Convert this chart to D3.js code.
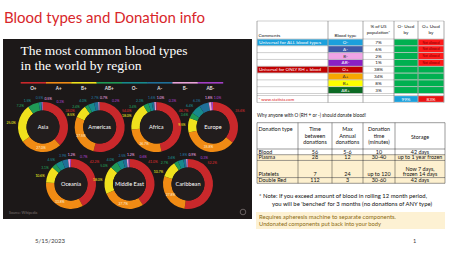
<!DOCTYPE html>
<html>
<head>
<meta charset="utf-8">
<script src="https://cdn.jsdelivr.net/npm/d3@7"></script>
<style>
body { margin: 0; background: #fff; }
svg { display: block; font-family: Lato, "Liberation Sans", sans-serif; }
</style>
</head>
<body>
<script>
(function() {

"use strict";

const SLIDE_TITLE = "Blood types and Donation info";
const CHART_TITLE = ["The most common blood types", "in the world by region"];

const BLOOD_TYPES = ["O+", "A+", "B+", "AB+", "O-", "A-", "B-", "AB-"];
const REGIONS = ["Asia", "Americas", "Africa", "Europe", "Oceania", "Middle East", "Caribbean"];

const ASIA        = [38.0, 27.0, 25.0, 7.2, 1.5, 0.5, 0.5, 0.3];
const AMERICAS    = [54.0, 27.5, 8.5, 2.4, 4.0, 2.7, 0.7, 0.2];
const AFRICA      = [46.7, 26.7, 18.0, 3.4, 2.3, 1.6, 1.0, 0.3];
const EUROPE      = [35.6, 35.8, 9.5, 3.6, 6.4, 6.3, 1.8, 1.0];
const OCEANIA     = [42.2, 33.8, 10.6, 3.1, 4.5, 3.9, 1.2, 0.7];
const MIDDLE_EAST = [41.0, 27.7, 18.0, 5.0, 4.0, 2.5, 1.2, 0.6];
const CARIBBEAN   = [52.2, 27.8, 10.7, 2.7, 3.6, 1.8, 0.9, 0.3];

// US table
const US_TYPES = ["O-", "A-", "B-", "AB-", "O+", "A+", "B+", "AB+"];
const US_SHARE = [7, 6, 2, 1, 38, 34, 8, 3];
const COMMENTS = ["Universal for ALL blood types", "", "", "", "Universal for ONLY RH + blood", "", "", ""];
const O_NEG_USED = [true, true, true, true, true, true, true, true];
const O_POS_USED = [false, false, false, false, true, true, true, true];
const USED_TOTALS = [99, 83];

// donation table
const DONATION_TYPES = ["Blood", "Plasma", "Platelets", "Double Red"];
const DAYS_BETWEEN = ["56", "28", "7", "112"];
const MAX_ANNUAL = ["5-6", "12", "24", "3"];
const DONATION_MINUTES = ["10", "30-40", "up to 120", "30-60"];
const STORAGE = [["42 days"], ["up to 1 year frozen"], ["Now 7 days,", "frozen 14 days"], ["42 days"]];

const SHARES = [ASIA, AMERICAS, AFRICA, EUROPE, OCEANIA, MIDDLE_EAST, CARIBBEAN];

let svg = d3.select("body").append("svg")
	.attr("width", 450)
	.attr("height", 253);

svg.append("text")
	.attr("x", 4)
	.attr("y", 22.5)
	.attr("fill", "#d8262a")
	.attr("textLength", 201)
	.attr("lengthAdjust", "spacingAndGlyphs")
	.style("font-size", "16px")
	.text(SLIDE_TITLE);

// ---------- dark infographic panel ----------
let panel = svg.append("g");

panel.append("rect")
	.attr("x", 3).attr("y", 39)
	.attr("width", 249).attr("height", 180)
	.attr("fill", "#1c1818");

panel.selectAll("text.title")
	.data(CHART_TITLE)
	.join("text")
		.attr("class", "title")
		.attr("x", 20.5)
		.attr("y", (d, i) => 55.3 + i * 14.4)
		.attr("fill", "#fff")
		.attr("textLength", (d, i) => i ? 121 : 167)
		.attr("lengthAdjust", "spacingAndGlyphs")
		.style("font-family", "'Liberation Serif', 'DejaVu Serif', serif")
		.style("font-size", "12.4px")
		.text(d => d);

let typeColor = d3.scaleOrdinal()
	.domain(BLOOD_TYPES)
	.range(["#c9282b", "#f08b14", "#efe11d", "#1f9a56", "#17898c", "#1f6f98", "#e8a3da", "#a23fc6"]);

let legend = d3.scaleBand()
	.domain(BLOOD_TYPES)
	.range([20.7, 223]);

panel.selectAll("rect.key")
	.data(BLOOD_TYPES)
	.join("rect")
		.attr("class", "key")
		.attr("x", d => legend(d))
		.attr("y", 82)
		.attr("width", legend.bandwidth() + 0.2)
		.attr("height", 1.6)
		.attr("fill", d => typeColor(d));

panel.selectAll("text.key")
	.data(BLOOD_TYPES)
	.join("text")
		.attr("class", "key")
		.attr("x", d => legend(d) + legend.bandwidth() / 2)
		.attr("y", 89.5)
		.attr("text-anchor", "middle")
		.attr("fill", "#e8e2e2")
		.style("font-size", "4.6px")
		.style("font-weight", "bold")
		.text(d => d);

let row1 = d3.scalePoint().domain(REGIONS.slice(0, 4)).range([43, 213]);
let row2 = d3.scalePoint().domain(REGIONS.slice(4)).range([71, 188]);

const R = 25, r = 16.5;
let pie = d3.pie().sort(null).value(d => d).startAngle(0).endAngle(2 * Math.PI);
let arc = d3.arc().innerRadius(r).outerRadius(R);

function drawDonut(region, shares) {
	let first = row1.domain().includes(region);
	let cx = first ? row1(region) : row2(region);
	let cy = first ? 127 : 184;

	let g = panel.append("g")
		.attr("transform", `translate(${cx}, ${cy})`);

	let slices = pie(shares);

	g.selectAll("path")
		.data(slices)
		.join("path")
			.attr("d", arc)
			.attr("fill", (d, i) => typeColor(BLOOD_TYPES[i]));

	g.append("circle")
		.attr("r", r)
		.attr("fill", "#221d1d");

	g.append("text")
		.attr("text-anchor", "middle")
		.attr("dy", "0.35em")
		.attr("fill", "#fff")
		.style("font-size", "5.6px")
		.text(region);

	// spread the label angles so the small slices at the top do not collide;
	// the O+ label is kept in the upper right and acts as a wrap-around neighbour
	let angles = slices.map(d => (d.startAngle + d.endAngle) / 2);
	angles[0] = Math.min(angles[0], first ? 0.95 : 0.75);
	let spread = angles.slice(2).concat([angles[0] + 2 * Math.PI]);
	const gap = 0.32;
	for (let k = 0; k < 120; k++) {
		for (let i = 1; i < spread.length; i++) {
			let diff = spread[i] - spread[i - 1];
			if (diff < gap) {
				spread[i - 1] -= (gap - diff) / 2;
				spread[i] += (gap - diff) / 2;
			}
		}
	}
	spread.slice(0, -1).forEach((a, i) => angles[i + 2] = a);
	angles[0] = spread[spread.length - 1] - 2 * Math.PI;

	g.selectAll("text.pct")
		.data(slices)
		.join("text")
			.attr("class", "pct")
			.each(function(d, i) {
				let a = angles[i];
				let s = Math.sin(a), c = Math.cos(a);
				let sel = d3.select(this);
				if (i == 1) {
					// the A+ share sits on the ring itself
					let rr = (R + r) / 2;
					sel.attr("x", rr * s)
						.attr("y", -rr * c + 1.2)
						.attr("text-anchor", "middle")
						.attr("fill", "#fff0d8");
					return;
				}
				let rr = R + 2.5;
				sel.attr("x", rr * s)
					.attr("y", -rr * c + (c > 0.6 ? -0.5 : c < -0.6 ? 3.3 : 1.2))
					.attr("text-anchor", s > 0.3 ? "start" : s < -0.3 ? "end" : "middle")
					.attr("fill", d3.color(typeColor(BLOOD_TYPES[i])).brighter(0.3));
			})
			.style("font-size", "3.4px")
			.text(d => d.data.toFixed(1) + "%");
}

REGIONS.forEach((region, i) => drawDonut(region, SHARES[i]));

panel.append("text")
	.attr("x", 9)
	.attr("y", 213.5)
	.attr("fill", "#7d7272")
	.style("font-size", "3.6px")
	.text("Source: Wikipedia");

panel.append("circle")
	.attr("cx", 243).attr("cy", 212).attr("r", 2.8)
	.attr("fill", "none")
	.attr("stroke", "#9a9090")
	.attr("stroke-width", 0.6);

// ---------- US blood type table ----------
let t1 = svg.append("g").style("font-size", "4.6px");

const COLS1 = [257, 328, 363, 394, 418, 444];
let rows1 = d3.scaleBand().domain(US_TYPES).range([39, 93.5]);
let usColor = d3.scaleOrdinal()
	.domain(US_TYPES)
	.range(["#1ba0dc", "#3f5aa8", "#f0a4e6", "#8a20c4", "#c00000", "#f7a600", "#ffff00", "#0c6a24"]);
let usText = d3.scaleOrdinal()
	.domain(US_TYPES)
	.range(["#fff", "#fff", "#333", "#fff", "#fff", "#333", "#333", "#fff"]);

const inset = 0.35;

t1.selectAll("rect.type")
	.data(US_TYPES)
	.join("rect")
		.attr("class", "type")
		.attr("x", COLS1[1] + inset)
		.attr("y", d => rows1(d) + inset)
		.attr("width", COLS1[2] - COLS1[1] - 2 * inset)
		.attr("height", rows1.bandwidth() - 2 * inset)
		.attr("fill", d => usColor(d));

t1.selectAll("text.type")
	.data(US_TYPES)
	.join("text")
		.attr("class", "type")
		.attr("x", (COLS1[1] + COLS1[2]) / 2)
		.attr("y", d => rows1(d) + rows1.bandwidth() / 2 + 1.6)
		.attr("text-anchor", "middle")
		.attr("fill", d => usText(d))
		.text(d => d);

let comments = COMMENTS.map((c, i) => ({c, type: US_TYPES[i]})).filter(d => d.c);

t1.selectAll("rect.comment")
	.data(comments)
	.join("rect")
		.attr("class", "comment")
		.attr("x", COLS1[0] + inset)
		.attr("y", d => rows1(d.type) + inset)
		.attr("width", COLS1[1] - COLS1[0] - 2 * inset)
		.attr("height", rows1.bandwidth() - 2 * inset)
		.attr("fill", d => usColor(d.type));

t1.selectAll("text.comment")
	.data(comments)
	.join("text")
		.attr("class", "comment")
		.attr("x", COLS1[0] + 2)
		.attr("y", d => rows1(d.type) + rows1.bandwidth() / 2 + 1.6)
		.attr("fill", "#fff")
		.attr("textLength", 62)
		.attr("lengthAdjust", "spacingAndGlyphs")
		.text(d => d.c);

t1.selectAll("text.share")
	.data(US_SHARE)
	.join("text")
		.attr("class", "share")
		.attr("x", (COLS1[2] + COLS1[3]) / 2)
		.attr("y", (d, i) => rows1(US_TYPES[i]) + rows1.bandwidth() / 2 + 1.6)
		.attr("text-anchor", "middle")
		.attr("fill", "#111")
		.text(d => d + "%");

[O_NEG_USED, O_POS_USED].forEach((used, k) => {
	let x0 = COLS1[3 + k], x1 = COLS1[4 + k];
	t1.selectAll(`rect.used${k}`)
		.data(used)
		.join("rect")
			.attr("class", `used${k}`)
			.attr("x", x0 + inset)
			.attr("y", (d, i) => rows1(US_TYPES[i]) + inset)
			.attr("width", x1 - x0 - 2 * inset)
			.attr("height", rows1.bandwidth() - 2 * inset)
			.attr("fill", d => d ? "#00b050" : "#ff1a1a");
	t1.selectAll(`text.used${k}`)
		.data(used)
		.join("text")
			.attr("class", `used${k}`)
			.attr("x", (x0 + x1) / 2)
			.attr("y", (d, i) => rows1(US_TYPES[i]) + rows1.bandwidth() / 2 + 1.2)
			.attr("text-anchor", "middle")
			.attr("fill", "#7a0000")
			.style("font-size", "3.2px")
			.text(d => d ? "" : "Not allowed");
});

// header
const HEAD1 = [["Comments"], ["Blood type"], ["% of US", "population*"], ["O- Used", "by"], ["O+ Used", "by"]];
HEAD1.forEach((lines, j) => {
	let left = j == 0;
	t1.append("text")
		.attr("text-anchor", left ? "start" : "middle")
		.attr("fill", "#111")
		.selectAll("tspan")
		.data(lines)
		.join("tspan")
			.attr("x", left ? COLS1[0] + 1.5 : (COLS1[j] + COLS1[j + 1]) / 2)
			.attr("y", (d, i) => lines.length > 1 ? 27.5 + i * 6.5 : 36.5)
			.text(d => d);
});

// footer row
const FOOT_Y = 95.5, FOOT_H = 7;
t1.append("text")
	.attr("x", COLS1[0] + 1.5)
	.attr("y", FOOT_Y + 5)
	.attr("fill", "#e02424")
	.style("font-size", "4.2px")
	.text("* www.statista.com");

t1.selectAll("rect.total")
	.data(USED_TOTALS)
	.join("rect")
		.attr("class", "total")
		.attr("x", (d, i) => COLS1[3 + i] + inset)
		.attr("y", FOOT_Y + 0.6)
		.attr("width", (d, i) => COLS1[4 + i] - COLS1[3 + i] - 2 * inset)
		.attr("height", FOOT_H - 1.2)
		.attr("fill", (d, i) => i ? "#e81414" : "#1ba0dc");

t1.selectAll("text.total")
	.data(USED_TOTALS)
	.join("text")
		.attr("class", "total")
		.attr("x", (d, i) => (COLS1[3 + i] + COLS1[4 + i]) / 2)
		.attr("y", FOOT_Y + 5)
		.attr("text-anchor", "middle")
		.attr("fill", "#fff")
		.text(d => d + "%");

// grid
let hLines1 = [21, ...US_TYPES.map(d => rows1(d)), 93.5, FOOT_Y, FOOT_Y + FOOT_H];
t1.selectAll("line.h")
	.data(hLines1)
	.join("line")
		.attr("class", "h")
		.attr("x1", COLS1[0]).attr("x2", COLS1[COLS1.length - 1])
		.attr("y1", d => d).attr("y2", d => d)
		.attr("stroke", "#777")
		.attr("stroke-width", 0.35);

t1.selectAll("line.v")
	.data(COLS1)
	.join("line")
		.attr("class", "v")
		.attr("x1", d => d).attr("x2", d => d)
		.attr("y1", 21).attr("y2", FOOT_Y + FOOT_H)
		.attr("stroke", "#444")
		.attr("stroke-width", 0.45);

// ---------- donation table ----------
svg.append("text")
	.attr("x", 257)
	.attr("y", 116.6)
	.attr("fill", "#111")
	.attr("textLength", 109)
	.attr("lengthAdjust", "spacingAndGlyphs")
	.style("font-size", "4.8px")
	.text("Why anyone with O (RH + or -) should donate blood!");

let t2 = svg.append("g").style("font-size", "5.4px");

const COLS2 = [257, 298, 332, 363, 395, 445];
const LINES = [1, 1, 3, 1];
let cum = [0];
LINES.forEach(n => cum.push(cum[cum.length - 1] + n));
let y2 = d3.scaleLinear().domain([0, 6]).range([149, 183.3]);

t2.selectAll("rect.band")
	.data(DONATION_TYPES)
	.join("rect")
		.attr("class", "band")
		.attr("x", COLS2[0])
		.attr("y", (d, i) => y2(cum[i]))
		.attr("width", COLS2[5] - COLS2[0])
		.attr("height", (d, i) => y2(cum[i + 1]) - y2(cum[i]))
		.attr("fill", (d, i) => i ? "#fdf0cf" : "#fff");

const HEAD2 = [["Donation type"], ["Time", "between", "donations"], ["Max", "Annual", "donations"], ["Donation", "time", "(minutes)"], ["Storage"]];
HEAD2.forEach((lines, j) => {
	let left = j == 0;
	let x = left ? COLS2[0] + 1.5 : (COLS2[j] + COLS2[j + 1]) / 2;
	t2.append("text")
		.attr("text-anchor", left ? "start" : "middle")
		.attr("fill", "#111")
		.selectAll("tspan")
		.data(lines)
		.join("tspan")
			.attr("x", x)
			.attr("y", (d, i) => j == 4 ? 139 : 131 + i * 6.7)
			.text(d => d);
});

let columns2 = [DONATION_TYPES, DAYS_BETWEEN, MAX_ANNUAL, DONATION_MINUTES];
columns2.forEach((col, j) => {
	let left = j == 0;
	t2.selectAll(`text.c${j}`)
		.data(col)
		.join("text")
			.attr("class", `c${j}`)
			.attr("x", left ? COLS2[0] + 1.5 : (COLS2[j] + COLS2[j + 1]) / 2)
			.attr("y", (d, i) => y2(cum[i + 1]) - 1.2)
			.attr("text-anchor", left ? "start" : "middle")
			.attr("fill", "#111")
			.text(d => d);
});

t2.selectAll("text.storage")
	.data(STORAGE)
	.join("text")
		.attr("class", "storage")
		.attr("text-anchor", "middle")
		.attr("fill", "#111")
		.each(function(lines, i) {
			d3.select(this).selectAll("tspan")
				.data(lines)
				.join("tspan")
					.attr("x", (COLS2[4] + COLS2[5]) / 2)
					.attr("y", (d, k) => y2(cum[i + 1]) - 1.2 - (lines.length - 1 - k) * 5.6)
					.text(d => d);
		});

t2.selectAll("line.h")
	.data([122.7, ...cum.map(c => y2(c))])
	.join("line")
		.attr("class", "h")
		.attr("x1", COLS2[0]).attr("x2", COLS2[5])
		.attr("y1", d => d).attr("y2", d => d)
		.attr("stroke", "#222")
		.attr("stroke-width", 0.45);

t2.selectAll("line.v")
	.data(COLS2)
	.join("line")
		.attr("class", "v")
		.attr("x1", d => d).attr("x2", d => d)
		.attr("y1", 122.7).attr("y2", y2(6))
		.attr("stroke", "#222")
		.attr("stroke-width", 0.45);

// notes
const NOTES = [
	"* Note:  If you exceed amount of blood in rolling 12 month period,",
	"you will be 'benched' for 3 months (no donations of ANY type)",
];
svg.selectAll("text.note")
	.data(NOTES)
	.join("text")
		.attr("class", "note")
		.attr("x", (d, i) => i ? 272 : 259)
		.attr("y", (d, i) => 198.3 + i * 7.3)
		.attr("fill", "#111")
		.attr("textLength", (d, i) => i ? 160 : 168)
		.attr("lengthAdjust", "spacingAndGlyphs")
		.style("font-size", "5px")
		.text(d => d);

svg.append("rect")
	.attr("x", 256).attr("y", 212)
	.attr("width", 189).attr("height", 17)
	.attr("fill", "#fdf1d3");

const APHERESIS = [
	"Requires apheresis machine to separate components.",
	"Undonated components put back into your body",
];
svg.selectAll("text.aph")
	.data(APHERESIS)
	.join("text")
		.attr("class", "aph")
		.attr("x", 259)
		.attr("y", (d, i) => 218.8 + i * 7.5)
		.attr("fill", "#8b6b12")
		.attr("textLength", (d, i) => i ? 122 : 137)
		.attr("lengthAdjust", "spacingAndGlyphs")
		.style("font-size", "5px")
		.text(d => d);

// slide footer
svg.append("text")
	.attr("x", 35).attr("y", 242.5)
	.attr("fill", "#404040")
	.attr("textLength", 30)
	.attr("lengthAdjust", "spacingAndGlyphs")
	.style("font-size", "5.6px")
	.text("5/15/2023");

svg.append("text")
	.attr("x", 413).attr("y", 242.5)
	.attr("fill", "#404040")
	.style("font-size", "5.6px")
	.text("1");

})();
</script>
</body>
</html>
